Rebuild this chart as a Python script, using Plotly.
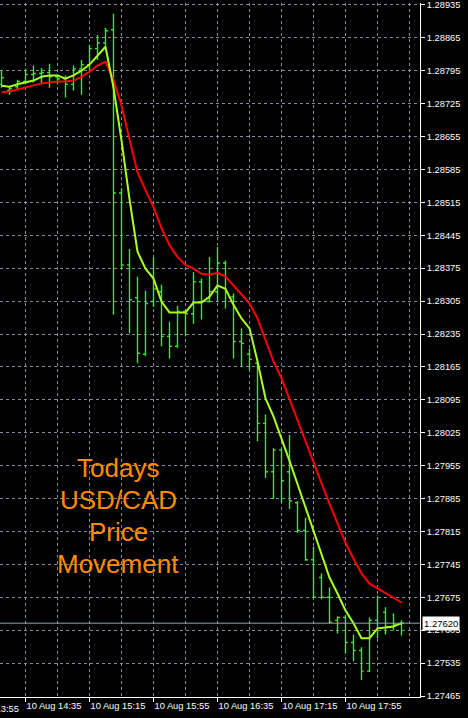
import plotly.graph_objects as go
import pandas as pd

# 5-minute bars, 10 Aug 14:20 -> 18:30
times = pd.date_range("2017-08-10 14:20", periods=51, freq="5min")

opens = [1.28766, 1.28753, 1.28761, 1.28772, 1.28787, 1.28789, 1.28791, 1.28782, 1.28778, 1.28766,
         1.28799, 1.28808, 1.28842, 1.28854, 1.28882, 1.28535, 1.28382, 1.28312, 1.28192, 1.28304,
         1.28325, 1.28230, 1.28209, 1.28283, 1.28278, 1.28346, 1.28304, 1.28325, 1.28386, 1.28314,
         1.28219, 1.28192, 1.28173, 1.28045, 1.27942, 1.27988, 1.27942, 1.27876, 1.27817, 1.27755,
         1.27717, 1.27675, 1.27626, 1.27632, 1.27579, 1.27562, 1.27518, 1.27626, 1.27643, 1.27613,
         1.27618]
highs = [1.28795, 1.28763, 1.28776, 1.28799, 1.28806, 1.28801, 1.28810, 1.28787, 1.28785, 1.28806,
         1.28818, 1.28850, 1.28871, 1.28886, 1.28916, 1.28545, 1.28416, 1.28357, 1.28327, 1.28399,
         1.28340, 1.28261, 1.28295, 1.28287, 1.28367, 1.28353, 1.28399, 1.28420, 1.28391, 1.28321,
         1.28247, 1.28204, 1.28177, 1.28064, 1.27992, 1.27992, 1.28020, 1.27880, 1.27844, 1.27783,
         1.27726, 1.27696, 1.27635, 1.27637, 1.27596, 1.27569, 1.27632, 1.27679, 1.27654, 1.27641,
         1.27626]
lows = [1.28759, 1.28744, 1.28753, 1.28766, 1.28770, 1.28766, 1.28759, 1.28766, 1.28738, 1.28753,
        1.28744, 1.28791, 1.28818, 1.28844, 1.28276, 1.28374, 1.28236, 1.28173, 1.28189, 1.28293,
        1.28209, 1.28183, 1.28206, 1.28230, 1.28257, 1.28266, 1.28302, 1.28304, 1.28289, 1.28183,
        1.28166, 1.28160, 1.28007, 1.27929, 1.27884, 1.27876, 1.27863, 1.27812, 1.27753, 1.27673,
        1.27671, 1.27620, 1.27598, 1.27556, 1.27539, 1.27499, 1.27516, 1.27588, 1.27596, 1.27605,
        1.27594]
closes = [1.28780, 1.28757, 1.28772, 1.28787, 1.28789, 1.28791, 1.28782, 1.28778, 1.28766, 1.28799,
          1.28808, 1.28842, 1.28854, 1.28880, 1.28535, 1.28382, 1.28308, 1.28194, 1.28300, 1.28331,
          1.28230, 1.28209, 1.28283, 1.28278, 1.28346, 1.28304, 1.28325, 1.28386, 1.28325, 1.28219,
          1.28215, 1.28181, 1.28045, 1.27942, 1.27988, 1.27923, 1.27880, 1.27817, 1.27755, 1.27675,
          1.27675, 1.27622, 1.27632, 1.27579, 1.27562, 1.27518, 1.27626, 1.27609, 1.27613, 1.27618,
          1.27620]

ma_fast = [1.28763, 1.28761, 1.28766, 1.28770, 1.28774, 1.28782, 1.28785, 1.28785, 1.28778, 1.28785,
           1.28795, 1.28808, 1.28827, 1.28846, 1.28759, 1.28647, 1.28522, 1.28410, 1.28374, 1.28353,
           1.28304, 1.28281, 1.28281, 1.28281, 1.28302, 1.28302, 1.28314, 1.28338, 1.28331, 1.28297,
           1.28268, 1.28247, 1.28177, 1.28098, 1.28060, 1.28014, 1.27965, 1.27916, 1.27865, 1.27817,
           1.27768, 1.27717, 1.27683, 1.27647, 1.27620, 1.27588, 1.27588, 1.27609, 1.27611, 1.27613,
           1.27620]
ma_slow = [1.28749, 1.28751, 1.28755, 1.28759, 1.28763, 1.28768, 1.28770, 1.28772, 1.28772, 1.28774,
           1.28782, 1.28793, 1.28806, 1.28814, 1.28776, 1.28721, 1.28649, 1.28579, 1.28541, 1.28505,
           1.28460, 1.28424, 1.28399, 1.28382, 1.28374, 1.28363, 1.28361, 1.28365, 1.28357, 1.28338,
           1.28319, 1.28300, 1.28268, 1.28223, 1.28177, 1.28141, 1.28098, 1.28052, 1.28007, 1.27961,
           1.27918, 1.27874, 1.27831, 1.27791, 1.27757, 1.27726, 1.27704, 1.27694, 1.27685, 1.27675,
           1.27664]

label_times = ["2017-08-10 14:35", "2017-08-10 15:15", "2017-08-10 15:55",
               "2017-08-10 16:35", "2017-08-10 17:15", "2017-08-10 17:55"]
label_texts = ["10 Aug 14:35", "10 Aug 15:15", "10 Aug 15:55",
               "10 Aug 16:35", "10 Aug 17:15", "10 Aug 17:55"]
minor_grid_times = ["2017-08-10 14:55", "2017-08-10 15:35", "2017-08-10 16:15",
                    "2017-08-10 16:55", "2017-08-10 17:35", "2017-08-10 18:15",
                    "2017-08-10 18:35"]
clipped_label = "10 Aug 13:55"
title_lines = ["Todays", "USD/CAD", "Price", "Movement"]

x_range = ["2017-08-10 14:19:03.75", "2017-08-10 18:41:33.75"]
y_range = [1.27463, 1.28939]

BAR = "#2ef02e"
GRID = "rgb(128,142,162)"
FONT = "Liberation Sans, Arial, sans-serif"

fig = go.Figure()
fig.add_trace(go.Ohlc(
    x=times, open=opens, high=highs, low=lows, close=closes,
    increasing=dict(line=dict(color=BAR, width=1.4)),
    decreasing=dict(line=dict(color=BAR, width=1.4)),
    tickwidth=0.3, hoverinfo="skip"))
fig.add_trace(go.Scatter(x=times, y=ma_slow, mode="lines",
                         line=dict(color="#ff0000", width=2), hoverinfo="skip"))
fig.add_trace(go.Scatter(x=times, y=ma_fast, mode="lines",
                         line=dict(color="#aaff22", width=2), hoverinfo="skip"))

last = closes[-1]
fig.add_shape(type="line", xref="paper", x0=0, x1=1, yref="y", y0=last, y1=last,
              line=dict(color="rgb(150,160,180)", width=1))

fig.add_annotation(xref="paper", x=1, xanchor="left", xshift=2, yref="y", y=last,
                   yanchor="middle", text=f"{last:.5f}", showarrow=False,
                   bgcolor="white", borderpad=1,
                   font=dict(family=FONT, size=9.5, color="black"))

fig.add_annotation(xref="paper", x=-38 / 420, xanchor="left", yref="paper", y=0,
                   yanchor="top", yshift=-5, text=clipped_label, showarrow=False,
                   font=dict(family=FONT, size=9.3, color="white"))

for i, line in enumerate(title_lines):
    fig.add_annotation(xref="paper", x=118 / 420, xanchor="center", yref="paper",
                       y=1 - (467 + 32 * i) / 697, yanchor="middle",
                       text=line, showarrow=False,
                       font=dict(family=FONT, size=26, color="#ff8c00"))

fig.update_layout(
    width=468, height=718,
    margin=dict(l=0, r=48, t=0, b=21),
    paper_bgcolor="black", plot_bgcolor="black",
    showlegend=False,
    xaxis=dict(
        type="date", range=x_range,
        rangeslider=dict(visible=False),
        tickmode="array", tickvals=label_times, ticktext=label_texts,
        ticks="outside", ticklen=4, tickcolor="white",
        ticklabelposition="outside right", ticklabeloverflow="allow",
        tickfont=dict(family=FONT, size=9.3, color="white"),
        showline=True, linecolor="white", linewidth=1,
        showgrid=True, gridcolor=GRID, griddash="3px,3px", gridwidth=1,
        minor=dict(tickmode="array", tickvals=minor_grid_times, showgrid=True,
                   gridcolor=GRID, griddash="3px,3px", gridwidth=1, ticks=""),
        zeroline=False, fixedrange=True,
    ),
    yaxis=dict(
        side="right", range=y_range,
        tick0=1.27465, dtick=0.0007, tickformat=".5f",
        ticks="outside", ticklen=4, tickcolor="white", ticklabeloverflow="allow",
        tickfont=dict(family=FONT, size=9.3, color="white"),
        showline=True, linecolor="white", linewidth=1,
        showgrid=True, gridcolor=GRID, griddash="3px,3px", gridwidth=1,
        zeroline=False, fixedrange=True,
    ),
)

fig.write_html("out.html", config={"displayModeBar": False},
               post_script="document.body.style.margin='0';document.body.style.overflow='hidden';")
